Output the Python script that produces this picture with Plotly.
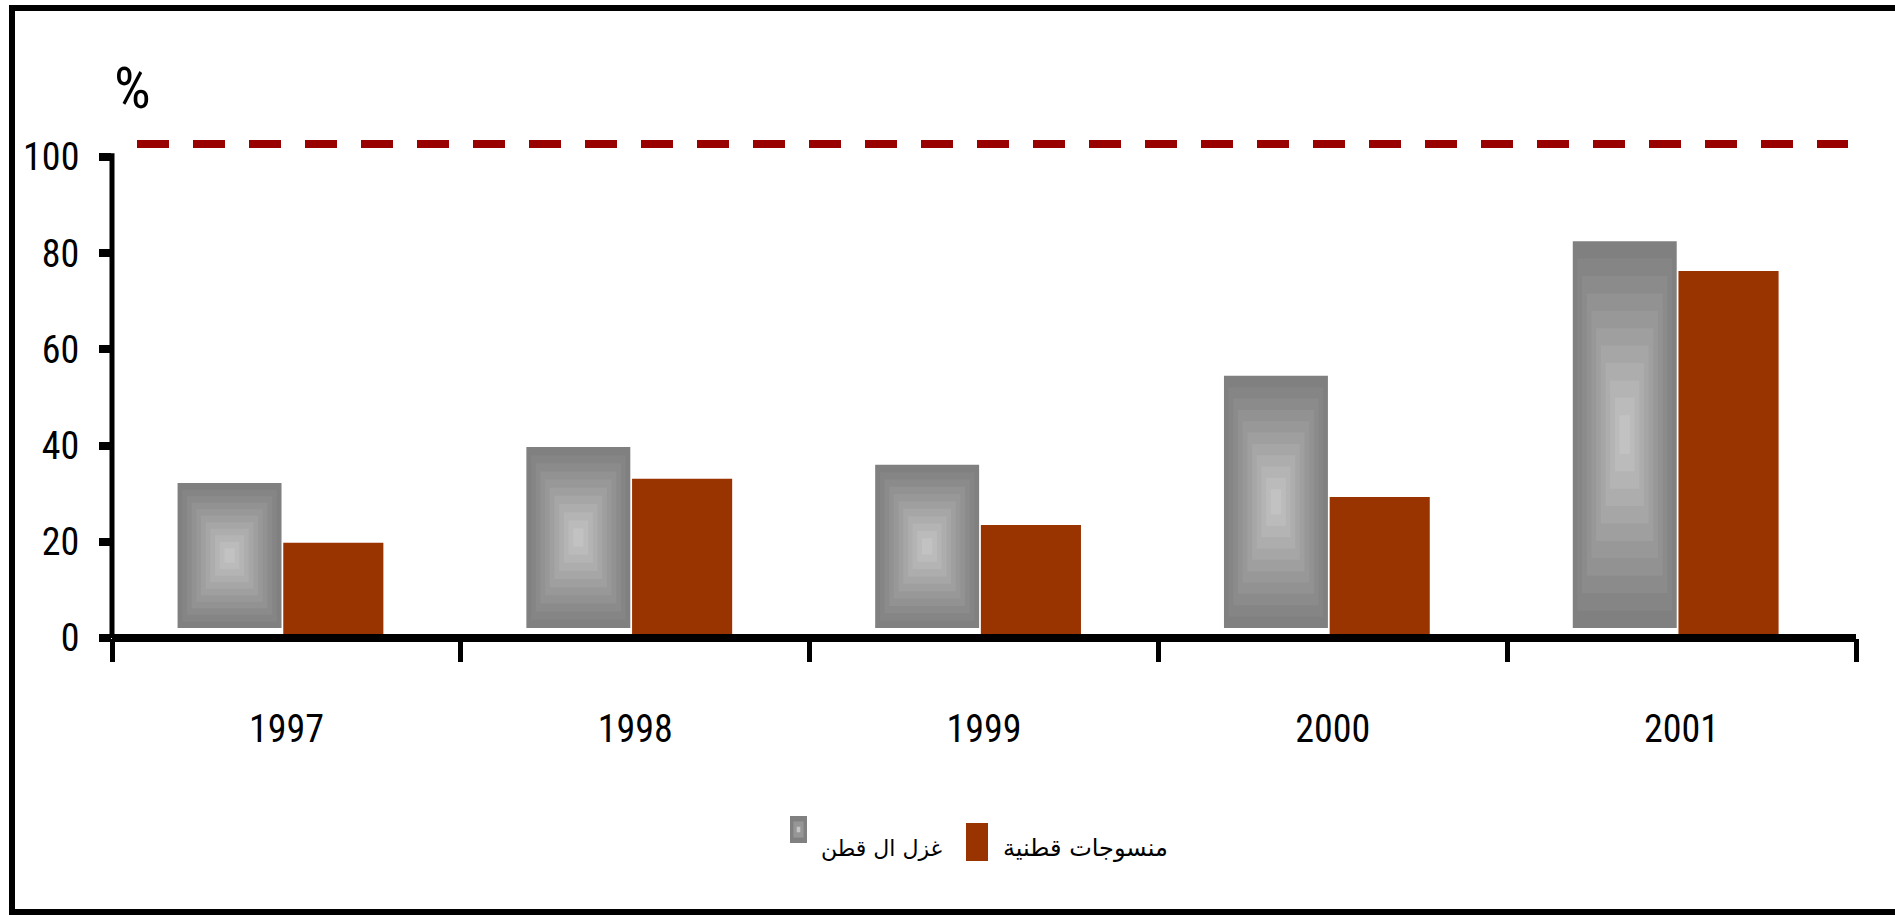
import plotly.graph_objects as go

# ---------------- data ----------------
years = ["1997", "1998", "1999", "2000", "2001"]
cotton_yarn = [32.2, 39.7, 36.0, 54.5, 82.5]      # غزل ال قطن (grey, gradient)
cotton_fabrics = [19.8, 33.1, 23.5, 29.3, 76.3]   # منسوجات قطنية (brown)
target_level = 102.7                               # dashed red reference line
yarn_name = "غزل ال قطن"
fabric_name = "منسوجات قطنية"
y_ticks = [0, 20, 40, 60, 80, 100]

# ---------------- layout constants ----------------
W, H = 1895, 915
L, R, T, B = 112, 39, 100, 277          # plot area 112..1856 x 100..638
PW, PH = W - L - R, H - T - B
YMAX = 111.85
YARN_BASE = 2.1
G_OFF, G_W = -0.312, 0.298
O_OFF, O_W = -0.009, 0.287
ORANGE = "#993300"
NARROW = "Liberation Sans Narrow, Arial Narrow, Roboto Condensed, Liberation Sans, Arial, sans-serif"
ARABIC = "DejaVu Sans, Noto Sans, sans-serif"


def px_x(px):
    return (px - L) / PW


def px_y(py):
    return (T + PH - py) / PH


fig = go.Figure()

# grey bars drawn as concentric rectangles to imitate the rectangular gradient fill
N = 11
for k in range(N):
    s = 1 - k * (0.9 / (N - 1))
    c = int(round(128 + 66 * (k / (N - 1)) ** 1.1))
    heights = [(v - YARN_BASE) * s for v in cotton_yarn]
    bases = [YARN_BASE + (v - YARN_BASE) * (1 - s) / 2 for v in cotton_yarn]
    fig.add_trace(go.Bar(
        x=years, y=heights, base=bases,
        width=G_W * s, offset=G_OFF + G_W * (1 - s) / 2,
        marker=dict(color=f"rgb({c},{c},{c})", line=dict(width=0)),
        name=yarn_name, showlegend=False, hoverinfo="skip" if k else None,
        customdata=cotton_yarn,
        hovertemplate="%{x}: %{customdata}<extra>" + yarn_name + "</extra>",
    ))

fig.add_trace(go.Bar(
    x=years, y=cotton_fabrics, width=O_W, offset=O_OFF,
    marker=dict(color=ORANGE, line=dict(width=0)),
    name=fabric_name, showlegend=False,
))

shapes = []
# frame around the whole chart (right side falls outside the picture)
shapes.append(dict(type="rect", xref="paper", yref="paper",
                   x0=px_x(12), x1=px_x(1990), y0=px_y(8), y1=px_y(912),
                   line=dict(color="black", width=6), layer="below"))
# dashed reference line
shapes.append(dict(type="line", xref="paper", yref="y",
                   x0=px_x(137), x1=px_x(1848), y0=target_level, y1=target_level,
                   line=dict(color="#990000", width=8, dash="32px,24px")))
# y axis line (0..100)
shapes.append(dict(type="line", xref="paper", yref="y", x0=0, x1=0, y0=0, y1=100.8,
                   line=dict(color="black", width=5)))
# x axis line
shapes.append(dict(type="line", xref="paper", yref="paper", x0=0, x1=1, y0=0, y1=0,
                   line=dict(color="black", width=8)))

annotations = [
    dict(text="%", xref="paper", yref="paper", x=px_x(132), y=px_y(88),
         xanchor="center", yanchor="middle", showarrow=False,
         font=dict(family=NARROW, size=58, color="black")),
]

# manual legend
gx0, gx1, gy0, gy1 = 790, 807, 816, 843
for k, c in enumerate([128, 150, 175, 196]):
    sx = (gx1 - gx0) * k * 0.2
    sy = (gy1 - gy0) * k * 0.2
    shapes.append(dict(type="rect", xref="paper", yref="paper",
                       x0=px_x(gx0 + sx), x1=px_x(gx1 - sx),
                       y0=px_y(gy1 - sy), y1=px_y(gy0 + sy),
                       fillcolor=f"rgb({c},{c},{c})", line=dict(width=0)))
shapes.append(dict(type="rect", xref="paper", yref="paper",
                   x0=px_x(966), x1=px_x(988), y0=px_y(861), y1=px_y(823),
                   fillcolor=ORANGE, line=dict(width=0)))
annotations.append(dict(text=yarn_name, xref="paper", yref="paper",
                        x=px_x(881), y=px_y(848), xanchor="center", yanchor="middle",
                        showarrow=False, font=dict(family=ARABIC, size=22, color="black")))
annotations.append(dict(text=fabric_name, xref="paper", yref="paper",
                        x=px_x(1085), y=px_y(848), xanchor="center", yanchor="middle",
                        showarrow=False, font=dict(family=ARABIC, size=24, color="black")))

fig.update_layout(
    width=W, height=H,
    margin=dict(l=L, r=R, t=T, b=B, autoexpand=False),
    paper_bgcolor="white", plot_bgcolor="white",
    barmode="overlay",
    showlegend=False,
    shapes=shapes, annotations=annotations,
    xaxis=dict(type="category", range=[-0.5, 4.5], showgrid=False, zeroline=False,
               showline=False, ticks="outside", tickson="boundaries",
               ticklen=23, tickwidth=5, tickcolor="black",
               tickfont=dict(family=NARROW, size=38, color="black"),
               ticklabelstandoff=65),
    yaxis=dict(range=[0, YMAX], showgrid=False, zeroline=False, showline=False,
               tickmode="array", tickvals=y_ticks, ticktext=[str(v) for v in y_ticks],
               ticks="outside", ticklen=12, tickwidth=8, tickcolor="black",
               tickfont=dict(family=NARROW, size=38, color="black"),
               ticklabelstandoff=12),
)

fig.write_html("out.html", config={"displayModeBar": False},
               post_script="document.body.style.margin='0px';")
